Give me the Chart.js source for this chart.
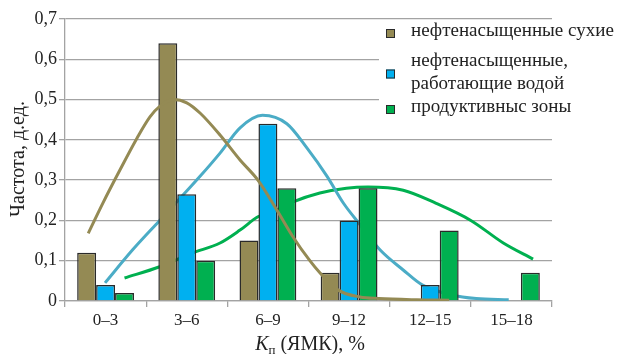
<!DOCTYPE html>
<html lang="ru">
  <head>
    <meta charset="UTF-8" />
    <script src="https://cdn.jsdelivr.net/npm/chart.js"></script>
    <title>Частота</title>
    <style>
      body { margin: 0; background: #fff; }
      #grafico { display: block; }
    </style>
  </head>
  <body>
    <canvas id="grafico" width="619" height="354"></canvas>
  </body>
</html>

<script>
  // Kп classes, %: start of each class and class width
  const categories = ['0–3', '3–6', '6–9', '9–12', '12–15', '15–18'];
  const classStart = [0, 3, 6, 9, 12, 15];
  const classWidth = 3;

  // bar heights, д.ед.
  const dryOil = [0.12, 0.64, 0.15, 0.07, null, null];
  const wetOil = [0.04, 0.265, 0.44, 0.2, 0.04, null];
  const productive = [0.02, 0.1, 0.28, 0.28, 0.175, 0.07];

  const legendNames = [
    ['нефтенасыщенные сухие'],
    ['нефтенасыщенные,', 'работающие водой'],
    ['продуктивныс зоны']
  ];

  const yTicks = [0, 0.1, 0.2, 0.3, 0.4, 0.5, 0.6, 0.7];

  // fitted curves: Kп value and frequency
  const dryCurveK = [0.86, 1.4, 2.03, 2.66, 3.14, 3.5, 4.0, 4.5, 5.0, 5.73, 6.47, 7.13, 7.83, 8.43, 9.05, 9.42, 10.1, 10.9, 11.6, 13.0, 14.2];
  const dryCurveY = [0.168, 0.243, 0.325, 0.404, 0.457, 0.483, 0.5, 0.492, 0.466, 0.412, 0.35, 0.3, 0.226, 0.159, 0.1, 0.07, 0.027, 0.01, 0.006, 0.003, 0.002];

  const wetCurveK = [1.48, 2.5, 3.5, 5.0, 5.73, 6.47, 7.3, 8.2, 8.94, 9.68, 10.3, 10.9, 11.64, 12.5, 13.2, 14.3, 15.2, 16.4];
  const wetCurveY = [0.045, 0.127, 0.2, 0.31, 0.367, 0.43, 0.461, 0.44, 0.38, 0.31, 0.242, 0.19, 0.127, 0.077, 0.04, 0.015, 0.006, 0.003];

  const prodCurveK = [2.2, 3.5, 4.7, 5.73, 6.47, 7.13, 7.83, 8.43, 9.42, 10.4, 11.2, 12.5, 13.7, 15.0, 16.2, 17.3];
  const prodCurveY = [0.057, 0.085, 0.119, 0.144, 0.176, 0.209, 0.226, 0.246, 0.268, 0.28, 0.283, 0.275, 0.243, 0.2, 0.144, 0.104];

  const corOliva = '#948a54';
  const corAzul = '#00b0f0';
  const corVerde = '#00b050';
  const corLinhaAzul = '#4bacc6';
  const corGrade = '#a3a3a3';
  const fonte = '"Liberation Serif", "Times New Roman", serif';

  function pontos(ks, ys) {
    return ks.map(function (k, i) { return { x: k, y: ys[i] }; });
  }

  // bars sit at the middle of each class on the same Kп axis as the curves
  function barra(label, valores, cor) {
    return {
      type: 'bar',
      label: label,
      data: valores.map(function (v, i) {
        return { x: classStart[i] + classWidth / 2, y: v };
      }),
      backgroundColor: cor,
      borderColor: '#2a2a2a',
      borderWidth: 1.5,
      categoryPercentage: 0.7,
      barPercentage: 1.0,
      order: 2
    };
  }

  function curva(ks, ys, cor, ordem) {
    return {
      type: 'line',
      data: pontos(ks, ys),
      borderColor: cor,
      borderWidth: 3,
      pointRadius: 0,
      fill: false,
      cubicInterpolationMode: 'monotone',
      order: ordem
    };
  }

  // legend box and axis titles
  const extras = {
    id: 'extras',
    afterDraw: function (chart) {
      const ctx = chart.ctx;
      ctx.save();

      ctx.fillStyle = '#fff';
      ctx.fillRect(379, 23, 240, 102);
      const cores = [corOliva, corAzul, corVerde];
      const linhasY = [[31], [61, 84], [107]];
      ctx.font = '19px ' + fonte;
      ctx.textBaseline = 'middle';
      for (let i = 0; i < legendNames.length; i++) {
        const ys = linhasY[i];
        const meio = (ys[0] + ys[ys.length - 1]) / 2 + (ys.length > 1 ? 1 : 2);
        ctx.fillStyle = cores[i];
        ctx.fillRect(386, meio - 4, 9, 9);
        ctx.strokeStyle = '#2a2a2a';
        ctx.lineWidth = 1;
        ctx.strokeRect(386.5, meio - 3.5, 8, 8);
        ctx.fillStyle = '#222';
        for (let j = 0; j < legendNames[i].length; j++) {
          ctx.fillText(legendNames[i][j], 411, ys[j]);
        }
      }

      // y title
      ctx.fillStyle = '#222';
      ctx.translate(19, 159);
      ctx.rotate(-Math.PI / 2);
      ctx.textAlign = 'center';
      ctx.font = '20px ' + fonte;
      ctx.fillText('Частота, д.ед.', 0, 0);
      ctx.setTransform(1, 0, 0, 1, 0, 0);

      // x title: italic K with subscript п
      ctx.textAlign = 'left';
      ctx.textBaseline = 'alphabetic';
      const fK = 'italic 20px ' + fonte;
      const fSub = '13px ' + fonte;
      const fRest = '20px ' + fonte;
      const resto = ' (ЯМК), %';
      ctx.font = fK; const wK = ctx.measureText('K').width;
      ctx.font = fSub; const wS = ctx.measureText('п').width;
      ctx.font = fRest; const wR = ctx.measureText(resto).width;
      let x = 310 - (wK + wS + wR) / 2;
      const base = 350;
      ctx.font = fK; ctx.fillText('K', x, base); x += wK;
      ctx.font = fSub; ctx.fillText('п', x, base + 4); x += wS;
      ctx.font = fRest; ctx.fillText(resto, x, base);
      ctx.restore();
    }
  };

  const config = {
    type: 'bar',
    data: {
      datasets: [
        barra(legendNames[0].join(' '), dryOil, corOliva),
        barra(legendNames[1].join(' '), wetOil, corAzul),
        barra(legendNames[2].join(' '), productive, corVerde),
        curva(dryCurveK, dryCurveY, corOliva, 1),
        curva(wetCurveK, wetCurveY, corLinhaAzul, 3),
        curva(prodCurveK, prodCurveY, corVerde, 3)
      ]
    },
    options: {
      responsive: false,
      animation: false,
      layout: { padding: { top: 19, right: 67, left: 0, bottom: 0 } },
      plugins: {
        legend: { display: false },
        tooltip: { enabled: false }
      },
      scales: {
        // value axis for bars and curves
        x: {
          type: 'linear',
          min: 0,
          max: 18,
          offset: false,
          display: false,
          afterBuildTicks: function (s) {
            s.ticks = classStart.concat([18]).map(function (v) { return { value: v }; });
          }
        },
        // visible axis with the class labels
        xc: {
          type: 'category',
          labels: categories,
          position: 'bottom',
          offset: true,
          afterFit: function (s) { s.height = 53; },
          grid: {
            offset: true,
            drawOnChartArea: false,
            drawTicks: true,
            tickLength: 6,
            color: corGrade,
            lineWidth: 1.3
          },
          border: { color: corGrade, width: 1.3 },
          ticks: {
            color: '#222',
            padding: 3,
            maxRotation: 0,
            font: { family: fonte, size: 17 }
          }
        },
        y: {
          min: 0,
          max: 0.7,
          afterFit: function (s) { s.width = 65; },
          afterBuildTicks: function (s) {
            s.ticks = yTicks.map(function (v) { return { value: v }; });
          },
          grid: {
            color: corGrade,
            lineWidth: 1.3,
            tickLength: 6
          },
          border: { color: corGrade, width: 1.3 },
          ticks: {
            color: '#222',
            padding: 2,
            font: { family: fonte, size: 18 },
            callback: function (v) {
              return v === 0 ? '0' : v.toFixed(1).replace('.', ',');
            }
          }
        }
      }
    },
    plugins: [extras]
  };

  new Chart(document.getElementById('grafico'), config);
</script>
